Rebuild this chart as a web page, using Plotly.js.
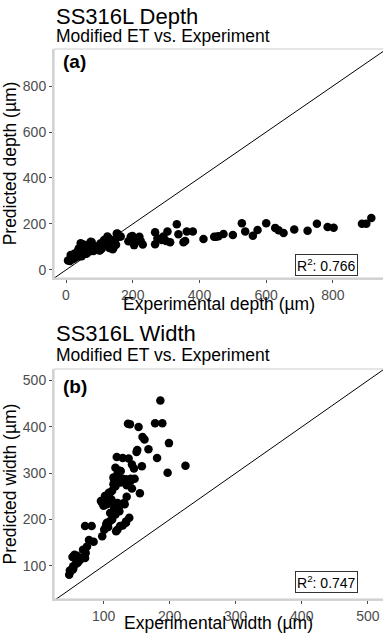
<!DOCTYPE html>
<html>
<head>
<meta charset="utf-8">
<script src="https://cdn.plot.ly/plotly-3.0.1.min.js"></script>
<style>html,body{margin:0;padding:0;background:#fff;}#chart{width:383px;height:640px;}</style>
</head>
<body>
<div id="chart"></div>
<script>
// ---- Panel (a): depth ----
const expDepth = [6,12,14,17,22,26,27,32,35,37,39,42,44,47,50,52,54,57,60,62,64,67,70,72,74,77,80,82,84,87,90,92,94,97,100,102,104,107,110,112,114,117,120,122,124,127,130,132,134,137,140,142,144,147,150,152,154,160,164,
  187,194,199,200,200,204,209,220,224,230,267,267,274,287,292,300,304,312,332,337,352,357,362,380,
  412,444,450,457,472,500,527,537,560,574,600,627,637,652,684,724,752,784,802,887,900,915];
const predDepth = [41,39,65,60,48,72,53,72,58,89,94,68,116,60,75,111,87,96,70,72,101,104,80,115,123,121,95,82,87,89,100,96,101,104,85,86,116,92,105,115,130,125,110,135,145,140,95,104,101,118,90,96,130,130,110,158,159,144,145,
  125,144,148,132,121,108,130,144,125,111,164,112,138,130,145,126,167,120,199,155,120,126,167,167,
  135,144,144,147,156,152,203,167,149,174,203,183,173,161,176,171,201,187,184,201,201,226];
const depthXRange = [-36, 950];
const depthYRange = [-35, 961];
const depthTicks = [0, 200, 400, 600, 800];
const depthR2 = "0.766";

// ---- Panel (b): width ----
const expWidth = [186,137,140,178,189,153,159,162,199,151,150,168,181,120,129,138,143,146,158,224,197,123,
  115,119,129,141,147,116,121,126,118,118,126,134,141,135,143,115,155,135,110,106,108,113,102,101,98,96,103,100,105,110,112,121,131,132,116,123,110,124,118,139,134,129,121,113,110,104,101,98,107,102,105,119,125,134,
  72,82,78,85,75,73,69,72,68,56,60,53,59,61,64,58,54,54,50,49,48,54];
const predWidth = [457,407,406,408,408,400,378,373,365,350,346,352,333,335,333,332,319,310,315,316,301,306,
  291,292,288,288,288,287,298,305,312,272,280,287,283,274,267,276,257,249,258,251,258,262,251,243,236,240,233,230,233,238,243,236,236,233,225,222,214,218,211,204,196,187,178,200,197,189,178,164,184,180,193,175,186,193,
  186,186,156,152,142,128,135,117,117,124,122,119,107,107,112,104,99,96,88,90,81,93];
const widthXRange = [25, 523];
const widthYRange = [28.5, 525];
const widthTicks = [100, 200, 300, 400, 500];
const widthR2 = "0.747";

const FONT = "Liberation Sans, Arial, sans-serif";
const H = 640;
const py = p => 1 - p / H;

const markerStyle = {color: '#000000', size: 8.5, line: {width: 0}};

const traces = [
  {x: [Math.min(depthXRange[0], depthYRange[0]), Math.max(depthXRange[1], depthYRange[1])],
   y: [Math.min(depthXRange[0], depthYRange[0]), Math.max(depthXRange[1], depthYRange[1])],
   mode: 'lines', line: {color: '#000', width: 1}, xaxis: 'x', yaxis: 'y', hoverinfo: 'skip'},
  {x: expDepth, y: predDepth, mode: 'markers', type: 'scatter', marker: markerStyle, xaxis: 'x', yaxis: 'y'},
  {x: [Math.min(widthXRange[0], widthYRange[0]), Math.max(widthXRange[1], widthYRange[1])],
   y: [Math.min(widthXRange[0], widthYRange[0]), Math.max(widthXRange[1], widthYRange[1])],
   mode: 'lines', line: {color: '#000', width: 1}, xaxis: 'x2', yaxis: 'y2', hoverinfo: 'skip'},
  {x: expWidth, y: predWidth, mode: 'markers', type: 'scatter', marker: markerStyle, xaxis: 'x2', yaxis: 'y2'}
];

const tickFont = {family: FONT, size: 14, color: '#4d4d4d'};
const titleFont = {family: FONT, size: 17.5, color: '#000'};
function ax(extra) {
  return Object.assign({
    showgrid: false, zeroline: false, showline: true, linecolor: '#d4d4d4', linewidth: 2,
    ticks: 'outside', ticklen: 3, tickwidth: 1, tickcolor: '#4d4d4d',
    tickfont: tickFont, fixedrange: true
  }, extra);
}

function note(text, xPaper, yPx, size, extra) {
  return Object.assign({text: text, xref: 'paper', yref: 'paper', x: xPaper, y: py(yPx),
    xanchor: 'left', yanchor: 'middle', showarrow: false,
    font: {family: FONT, size: size, color: '#000'}}, extra || {});
}

const layout = {
  width: 383, height: 640,
  margin: {l: 54, r: 0, t: 0, b: 0},
  paper_bgcolor: '#fff', plot_bgcolor: '#fff',
  showlegend: false,
  font: {family: FONT},
  xaxis: ax({domain: [0, 1], range: depthXRange, tickvals: depthTicks, anchor: 'y'}),
  yaxis: ax({domain: [py(278), py(49)], range: depthYRange, tickvals: depthTicks, anchor: 'x',
    title: {text: 'Predicted depth (µm)', font: titleFont, standoff: 4}}),
  xaxis2: ax({domain: [0, 1], range: widthXRange, tickvals: widthTicks, anchor: 'y2'}),
  yaxis2: ax({domain: [py(599), py(369)], range: widthYRange, tickvals: widthTicks, anchor: 'x2',
    title: {text: 'Predicted width (µm)', font: titleFont, standoff: 4}}),
  shapes: [
    {type: 'rect', xref: 'x domain', yref: 'y domain', x0: 0, x1: 1.05, y0: 0, y1: 1, line: {color: '#cccccc', width: 1}},
    {type: 'rect', xref: 'x2 domain', yref: 'y2 domain', x0: 0, x1: 1.05, y0: 0, y1: 1, line: {color: '#cccccc', width: 1}}
  ],
  annotations: [
    note('SS316L Depth', 0, 16, 22),
    note('Modified ET vs. Experiment', 0, 36, 17.5),
    note('<b>(a)</b>', 0.022, 61, 19),
    note('Experimental depth (µm)', 0.5, 304, 17.5, {xanchor: 'center'}),
    note('R<sup>2</sup>: ' + depthR2, 304/329, 0, 14, {y: py(276), xanchor: 'right', yanchor: 'bottom', bordercolor: '#333', borderwidth: 1, borderpad: 1, bgcolor: '#fff'}),
    note('SS316L Width', 0, 333, 22),
    note('Modified ET vs. Experiment', 0, 355, 17.5),
    note('<b>(b)</b>', 0.022, 386, 19),
    note('Experimental width (µm)', 0.5, 623, 17.5, {xanchor: 'center'}),
    note('R<sup>2</sup>: ' + widthR2, 304/329, 0, 14, {y: py(593), xanchor: 'right', yanchor: 'bottom', bordercolor: '#333', borderwidth: 1, borderpad: 1, bgcolor: '#fff'})
  ]
};

Plotly.newPlot('chart', traces, layout, {displayModeBar: false, staticPlot: true});
</script>
</body>
</html>
